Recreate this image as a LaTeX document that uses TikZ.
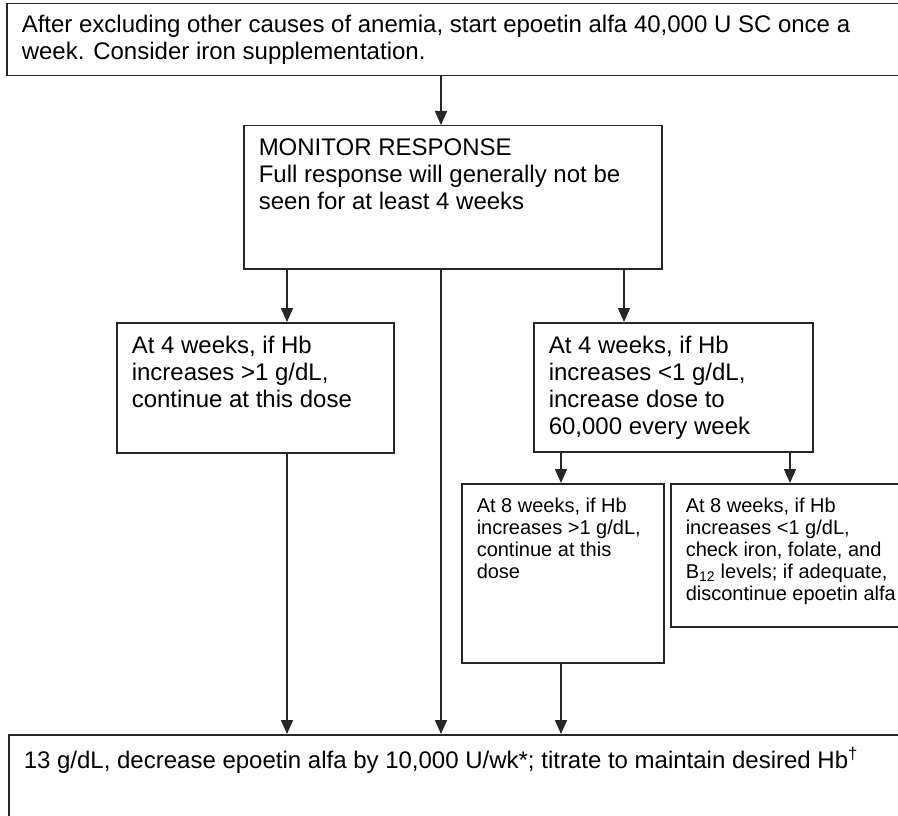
\documentclass[tikz,border=0pt]{standalone}
\usepackage{fontspec}
\setmainfont{Liberation Sans}
\usetikzlibrary{arrows.meta, positioning}
\tikzstyle{flowbox} = [rectangle, draw=black!85, line width=1.5pt, anchor=north west, inner xsep=15pt, inner ysep=13pt, font=\fontsize{24}{27}\selectfont]
\tikzstyle{smallbox} = [flowbox, inner ysep=14pt, font=\fontsize{20}{22}\selectfont]
\tikzstyle{arrow} = [draw=black!85, line width=1.5pt, -{Triangle[length=14pt, width=12pt]}]
\newcommand{\boxtext}[3]{\parbox[t][#2][t]{#1}{\raggedright #3}}

\begin{document}
\begin{tikzpicture}[x=1pt, y=1pt]
        \useasboundingbox[fill=white] (0,0) rectangle (898,-816);

        \node [flowbox, inner ysep=11pt] (start) at (6,-3) {\boxtext{884pt}{50pt}{After excluding other causes of anemia, start epoetin alfa 40,000 U SC once a\\ week. Consider iron supplementation.}};
        \node [flowbox] (monitor) at (243,-125) {\boxtext{388pt}{117pt}{MONITOR RESPONSE\\ Full response will generally not be\\ seen for at least 4 weeks}};

        \node [flowbox] (cont4) at (116,-322) {\boxtext{247pt}{104pt}{At 4 weeks, if Hb\\ increases >1 g/dL,\\ continue at this dose}};
        \node [flowbox] (incr4) at (533,-322) {\boxtext{249pt}{103pt}{At 4 weeks, if Hb\\ increases <1 g/dL,\\ increase dose to\\ 60,000 every week}};

        \node [smallbox] (cont8) at (461,-483) {\boxtext{172pt}{151pt}{At 8 weeks, if Hb\\ increases >1 g/dL,\\ continue at this\\ dose}};
        \node [smallbox] (stop8) at (670,-483) {\boxtext{240pt}{115pt}{At 8 weeks, if Hb\\ increases <1 g/dL,\\ check iron, folate, and\\ B\textsubscript{12} levels; if adequate,\\ discontinue epoetin alfa}};

        \node [flowbox] (taper) at (8,-734) {\boxtext{884pt}{94pt}{13 g/dL, decrease epoetin alfa by 10,000 U/wk*; titrate to maintain desired Hb\textsuperscript{†}}};

        % columns of the connectors
        \coordinate (colA) at (287,0);
        \coordinate (colB) at (441,0);
        \coordinate (colC) at (624,0);
        \coordinate (colD) at (561,0);
        \coordinate (colE) at (790,0);

        \draw [arrow] (start.south -| colB) -- (monitor.north -| colB);
        \draw [arrow] (monitor.south -| colA) -- (cont4.north -| colA);
        \draw [arrow] (monitor.south -| colB) -- (taper.north -| colB);
        \draw [arrow] (monitor.south -| colC) -- (incr4.north -| colC);

        \draw [arrow] (incr4.south -| colD) -- (cont8.north -| colD);
        \draw [arrow] (incr4.south -| colE) -- (stop8.north -| colE);

        \draw [arrow] (cont4.south -| colA) -- (taper.north -| colA);
        \draw [arrow] (cont8.south -| colD) -- (taper.north -| colD);
    \end{tikzpicture}
\end{document}
